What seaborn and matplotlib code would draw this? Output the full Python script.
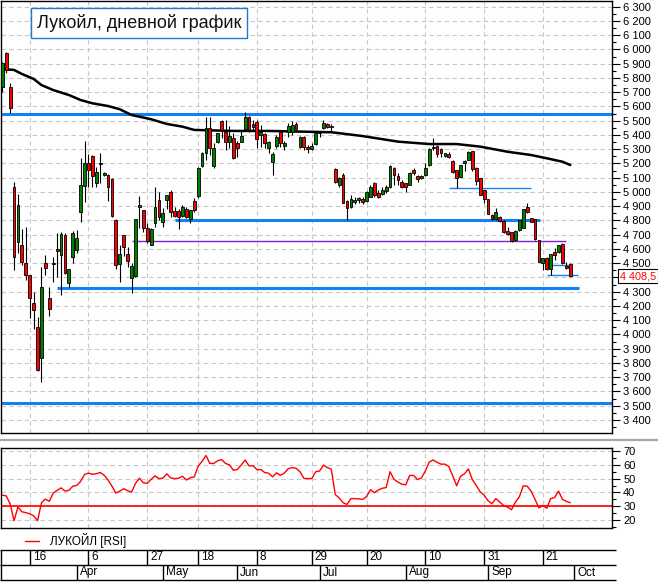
import numpy as np
import pandas as pd
import matplotlib
matplotlib.use("Agg")
import matplotlib.pyplot as plt
import matplotlib.transforms as mtransforms
from matplotlib.lines import Line2D
from matplotlib.ticker import MultipleLocator
import seaborn as sns

# ---------------- data ----------------
opens = [5739,5973,5739,5037,4651,4628,4499,4417,4218,4054,
         3832,4503,4254,4503,4598,4557,4698,4359,4546,4592,
         4861,5044,5205,5254,5061,5195,5117,5119,5089,4803,
         4494,4698,4564,4394,4412,4896,4873,4745,4628,4780,
         4943,4787,4943,5002,4866,4866,4831,4878,4808,4936,
         4971,5184,5271,5451,5182,5348,5498,5423,5353,5376,
         5346,5353,5442,5528,5475,5493,5400,5404,5306,5212,
         5324,5423,5323,5419,5423,5475,5317,5388,5317,5301,
         5334,5420,5447,5475,5456,5159,5049,5119,4938,4896,
         4931,4943,4950,4938,4967,5065,4990,4985,5009,5033,
         5166,5112,5072,5061,5049,5154,5112,5096,5119,5189,
         5317,5324,5299,5252,5266,5219,5154,5107,5201,5224,
         5287,5170,5096,5014,4948,4838,4808,4826,4798,4728,
         4717,4663,4733,4749,4896,4815,4810,4663,4503,4534,
         4457,4581,4576,4635,4480,4494]
highs = [5914,5984,5762,5072,4985,4738,4752,4420,4300,4124,
         4475,4557,4335,4546,4714,4721,4714,4457,4726,4733,
         5236,5357,5266,5259,5177,5271,5140,5125,5095,4810,
         4628,4700,4616,4503,4810,4971,4875,4780,4745,5037,
         5002,4885,4980,5014,4896,4878,4908,4892,4873,4955,
         5177,5282,5528,5528,5341,5415,5505,5505,5465,5411,
         5357,5435,5563,5530,5505,5505,5470,5411,5355,5282,
         5400,5425,5357,5482,5498,5493,5395,5390,5329,5341,
         5416,5423,5505,5482,5475,5166,5107,5131,4940,4978,
         4966,4966,4966,5005,5049,5072,5014,5037,5049,5189,
         5173,5131,5084,5061,5142,5166,5119,5119,5201,5306,
         5376,5329,5306,5276,5280,5222,5157,5192,5224,5287,
         5290,5172,5098,5016,4950,4845,4885,4828,4800,4752,
         4720,4730,4805,4880,4924,4820,4812,4665,4536,4541,
         4566,4604,4630,4640,4510,4499]
lows = [5704,5833,5552,4452,4569,4487,4382,4113,4036,3740,
        3668,4417,4129,4370,4405,4277,4422,4335,4499,4569,
        4791,4931,5037,5037,5037,5061,5110,4938,4826,4457,
        4370,4553,4475,4289,4405,4745,4721,4640,4625,4756,
        4803,4752,4878,4826,4822,4738,4826,4815,4780,4861,
        4955,5177,5224,5259,5170,5345,5376,5294,5310,5229,
        5247,5348,5435,5423,5435,5306,5317,5306,5271,5119,
        5310,5317,5294,5388,5400,5435,5310,5294,5271,5294,
        5329,5383,5440,5447,5423,5065,5037,4920,4803,4890,
        4915,4920,4917,4931,4965,4967,4955,4978,4990,5026,
        5049,5049,5026,5002,5049,5119,5072,5089,5112,5182,
        5294,5247,5247,5247,5240,5131,5030,5103,5149,5222,
        5149,5049,4975,4920,4843,4803,4803,4791,4710,4698,
        4647,4658,4728,4745,4854,4788,4663,4508,4452,4452,
        4417,4522,4570,4494,4460,4401]
closes = [5903,5856,5587,4546,4908,4510,4417,4254,4171,3750,
          4335,4468,4176,4492,4588,4703,4429,4457,4714,4675,
          5049,5201,5154,5114,5138,5205,5131,5037,4831,4487,
          4564,4616,4517,4480,4808,4906,4745,4658,4740,4896,
          4826,4850,4978,4861,4831,4826,4896,4822,4873,4873,
          5166,5271,5447,5306,5310,5411,5435,5348,5393,5236,
          5310,5395,5528,5435,5458,5369,5423,5341,5353,5266,
          5388,5341,5341,5463,5470,5442,5388,5317,5301,5322,
          5416,5414,5482,5458,5466,5072,5096,4924,4885,4950,
          4943,4955,4931,5002,5037,4978,4967,5014,5033,5182,
          5119,5084,5033,5037,5135,5131,5089,5112,5166,5299,
          5306,5266,5271,5271,5247,5138,5096,5189,5217,5278,
          5159,5079,4978,4948,4845,4808,4861,4798,4717,4705,
          4658,4728,4803,4878,4861,4791,4670,4510,4534,4457,
          4564,4557,4628,4503,4464,4408.5]
rsi_values = [38,37.5,31.7,19.5,29.5,26,25.3,24.5,23,19.5,
              32.5,35.2,33.5,39.5,41.5,43.3,41,41.5,44.5,45.1,
              48,53,54,53.1,53.6,54.4,52.5,49,44.5,39.5,
              41,42.7,41.3,40.2,46.5,50.3,47,46.5,49.5,52,
              50,50.3,53.5,50.5,50,50.3,51.7,49,50.7,51.2,
              59,62.5,66.8,61,61,63,63.8,61,60,56,
              56.6,59.9,63.5,59.2,59.4,56.5,56.6,54.4,53.9,51.3,
              54.2,52.4,54,57.2,58,57.5,55,50.2,50,50,
              55,55.5,59.8,58,56.8,38.5,36,32.5,31.3,35.5,
              35.5,35.3,35,37,42,39.8,41.8,43,43.5,55,
              49.5,47.5,46,45.5,52.3,52.3,49.3,50.5,55.5,62,
              63.5,61.8,60.5,60.5,58.8,52,44.8,51.8,53.5,57,
              49.3,45,40.5,38,34,31.8,35.5,33,30.5,29.3,
              27.5,33,36.8,44.8,44.5,41,35,28.8,30.5,28.5,
              35.5,36.3,41,35,33.5,32.5]
ma_index = [0,3,5,8,10,13,17,20,23,27,30,33,38,42,46,49,59,68,84,92,101,109,116,122,129,135,139,143,145]
ma_values = [5863,5856,5828,5793,5750,5715,5680,5645,5622,5603,5580,5540,5510,5477,5458,5435,
             5428,5428,5419,5392,5353,5336,5336,5318,5282,5259,5236,5212,5189]
day_tick_index = [7,22,37,50,65,79,93,108,123,138]
day_tick_labels = ['16','6','27','18','8','29','20','10','31','21']
month_tick_index = [19,41,60,81,103,124,146]
month_tick_labels = ['Apr','May','Jun','Jul','Aug','Sep','Oct']
level_prices = [5545, 4801, 4655, 4323, 3522, 5027, 4487, 4415]
level_start  = [-2, 44, 33, 14, -2, 114, 140.3, 139]
level_end    = [170, 137.3, 143.8, 147.2, 170, 135, 145, 147]
level_style  = ['thick', 'thick', 'purple', 'thick', 'thick', 'thin', 'thin', 'thin']
last_price = 4408.5
price_ticks = list(range(3400, 6301, 100))
rsi_ticks = [20, 30, 40, 50, 60, 70]
rsi_level = 30
title_text = 'Лукойл, дневной график'
legend_text = 'ЛУКОЙЛ [RSI]'

# ---------------- style ----------------
sns.set_theme(style="white")
plt.rcParams['font.family'] = ['Liberation Sans', 'DejaVu Sans']
plt.rcParams['axes.linewidth'] = 1.0

BLUE = '#1580f0'
PURPLE = '#7b22d4'
GREEN = '#008000'
RED = '#ff0000'
GRID = '#c8c8c8'

W, H = 658, 583
fig = plt.figure(figsize=(W / 100, H / 100), dpi=100)
fig.patch.set_facecolor('white')

X0, STEP = 2.3, 3.917   # pixel position of first candle and candle spacing


def px_axes(x0, y0, x1, y1):
    return fig.add_axes([x0 / W, 1 - y1 / H, (x1 - x0) / W, (y1 - y0) / H])


def idx_lim(x0, x1):
    return ((x0 - X0) / STEP, (x1 - X0) / STEP)


def style_right_axis(a, minor):
    a.yaxis.tick_right()
    a.yaxis.set_minor_locator(MultipleLocator(minor))
    a.tick_params(axis='y', which='major', direction='out', length=6, width=0.8, pad=2,
                  labelsize=8, colors='black', right=True, left=False)
    a.tick_params(axis='y', which='minor', direction='out', length=3, width=0.8,
                  colors='black', right=True, left=False)
    a.set_xticks(day_tick_index)
    a.set_xticklabels([])
    a.tick_params(axis='x', which='both', length=0)
    a.grid(True, which='major', color=GRID, linestyle=(0, (4, 3)), linewidth=0.8)
    a.set_axisbelow(True)
    for s in a.spines.values():
        s.set_color('black')
        s.set_linewidth(1.0)


df = pd.DataFrame({'open': opens, 'high': highs, 'low': lows, 'close': closes, 'rsi': rsi_values})
df['idx'] = np.arange(len(df))
df['up'] = df['close'] >= df['open']

# ---------------- main price panel ----------------
ax = px_axes(1, 1, 612, 433)
ax.set_facecolor('white')
ax.set_xlim(*idx_lim(1, 612))
ax.set_ylim(3308, 6340)
ax.set_yticks(price_ticks)
# the 4 400 label sits under the last-price box in the original, so it is left blank
ax.set_yticklabels(['' if abs(v - last_price) < 60 else f"{v:,}".replace(',', ' ') for v in price_ticks])
style_right_axis(ax, 50)

# levels
for p, s0, s1, st in zip(level_prices, level_start, level_end, level_style):
    if st == 'thick':
        ax.hlines(p, s0, s1, colors=BLUE, linewidth=2.2, zorder=2)
    elif st == 'purple':
        ax.hlines(p, s0, s1, colors=PURPLE, linewidth=1.0, zorder=2)
    else:
        ax.hlines(p, s0, s1, colors=BLUE, linewidth=1.0, zorder=2)

# moving average
sns.lineplot(x=ma_index, y=ma_values, color='black', linewidth=1.8, ax=ax, zorder=3)

# candles
ax.vlines(df['idx'], df['low'], df['high'], color='black', linewidth=0.8, zorder=4)
body_bottom = df[['open', 'close']].min(axis=1)
body_height = (df['close'] - df['open']).abs()
ax.bar(df['idx'], body_height, bottom=body_bottom, width=0.72,
       color=np.where(df['up'], GREEN, RED), edgecolor='black', linewidth=0.6, zorder=5)
ax.set_xlabel('')
ax.set_ylabel('')

# title box
ax.text(0.2255, 0.949, title_text, transform=ax.transAxes, ha='center', va='center',
        fontsize=13, color='#111111', family=['Liberation Sans', 'DejaVu Sans'],
        bbox=dict(boxstyle='square,pad=0.32', fc='white', ec='#1e78d8', lw=1.0), zorder=10)

# last price label
trans = mtransforms.blended_transform_factory(ax.transAxes, ax.transData)
ax.text(1.0135, last_price, f"{last_price:,.1f}".replace(',', ' ').replace('.', ','),
        transform=trans, ha='left', va='center', fontsize=7.8, color=RED,
        bbox=dict(boxstyle='square,pad=0.18', fc='white', ec='black', lw=0.8),
        zorder=10, clip_on=False)

# ---------------- separator ----------------
fig.add_artist(Line2D([0, 1], [1 - 440 / H] * 2, color='#a8a8a8', linewidth=1.6))

# ---------------- RSI panel ----------------
axr = px_axes(1, 448, 612, 528)
axr.set_facecolor('white')
axr.set_xlim(*idx_lim(1, 612))
axr.set_ylim(14.2, 72.2)
axr.set_yticks(rsi_ticks)
axr.set_yticklabels([str(v) for v in rsi_ticks])
style_right_axis(axr, 5)
axr.axhline(rsi_level, color=RED, linewidth=1.2, zorder=2)
sns.lineplot(data=df, x='idx', y='rsi', color=RED, linewidth=1.0, ax=axr, zorder=3)
axr.set_xlabel('')
axr.set_ylabel('')

# legend
fig.add_artist(Line2D([25 / W, 39 / W], [1 - 541 / H] * 2, color=RED, linewidth=1.0))
fig.text(50 / W, 1 - 541 / H, legend_text, ha='left', va='center', fontsize=8.5, color='black')

# ---------------- date strip ----------------
axd = px_axes(0, 550, 616, 580)
axd.set_xlim(*idx_lim(0, 616))
axd.set_ylim(0, 2)
axd.axis('off')
axd.hlines([0, 1, 2], *idx_lim(0, 616), colors='black', linewidth=1.0, clip_on=False)
axd.vlines(day_tick_index, 1, 2, colors='black', linewidth=1.0)
axd.vlines(month_tick_index, 0, 1, colors='black', linewidth=1.0)
axd.vlines([idx_lim(0.5, 0.5)[0]], 0, 2, colors='black', linewidth=1.0, clip_on=False)
off = mtransforms.offset_copy(axd.transData, fig=fig, x=3, y=0, units='dots')
for i, lab in zip(day_tick_index, day_tick_labels):
    axd.text(i, 1.5, lab, transform=off, ha='left', va='center', fontsize=8.5, color='black')
for i, lab in zip(month_tick_index, month_tick_labels):
    axd.text(i, 0.5, lab, transform=off, ha='left', va='center', fontsize=8.5, color='black',
             clip_on=False)

fig.savefig('out.png', dpi=100, facecolor='white')
